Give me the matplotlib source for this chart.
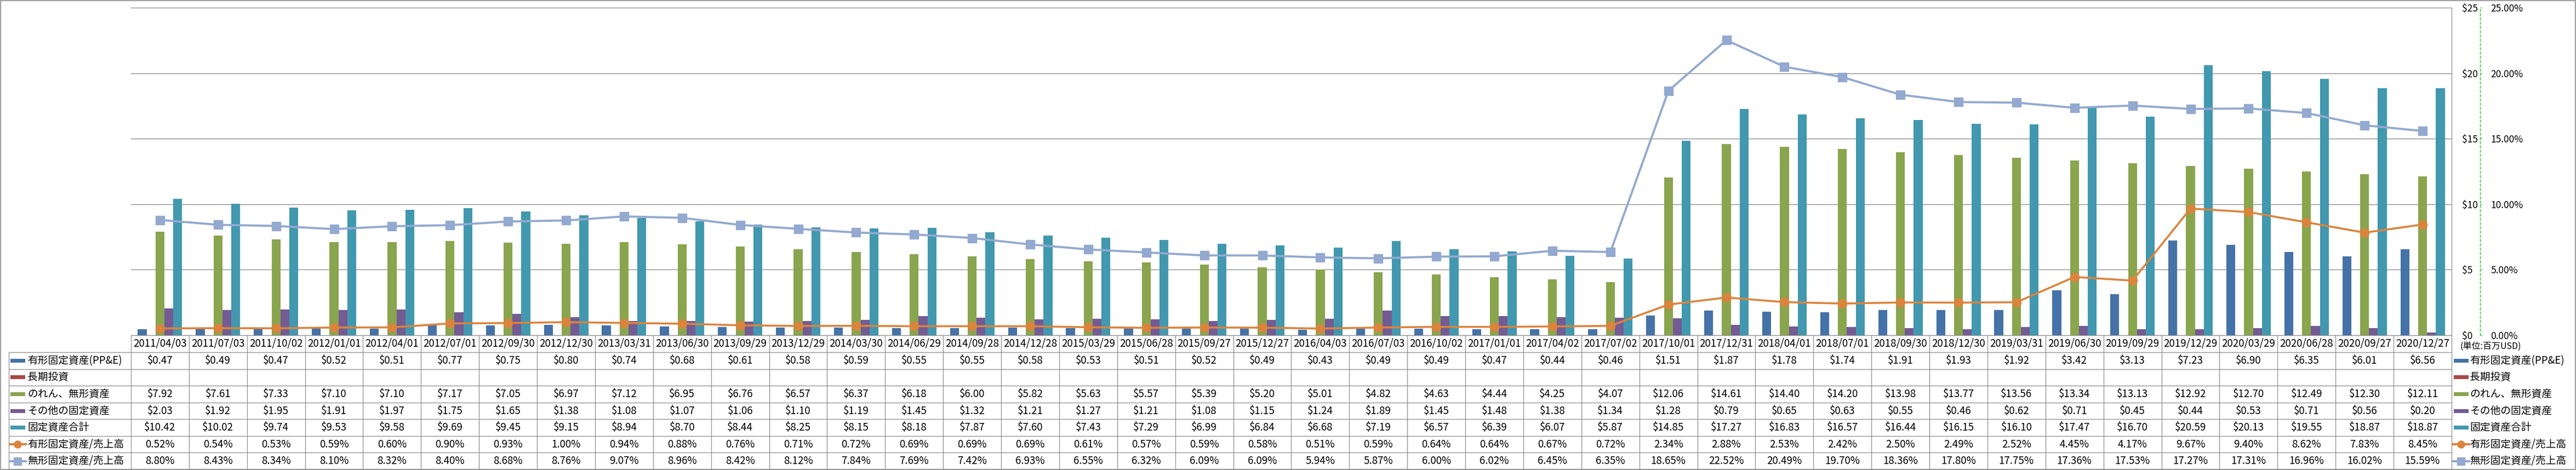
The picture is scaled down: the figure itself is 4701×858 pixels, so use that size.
import numpy as np
import matplotlib.pyplot as plt
from matplotlib.patches import Rectangle
from matplotlib.lines import Line2D

plt.rcParams['font.family'] = ['Noto Sans CJK JP', 'DejaVu Sans']

dates = ['2011/04/03', '2011/07/03', '2011/10/02', '2012/01/01', '2012/04/01', '2012/07/01', '2012/09/30',
         '2012/12/30', '2013/03/31', '2013/06/30', '2013/09/29', '2013/12/29', '2014/03/30', '2014/06/29',
         '2014/09/28', '2014/12/28', '2015/03/29', '2015/06/28', '2015/09/27', '2015/12/27', '2016/04/03',
         '2016/07/03', '2016/10/02', '2017/01/01', '2017/04/02', '2017/07/02', '2017/10/01', '2017/12/31',
         '2018/04/01', '2018/07/01', '2018/09/30', '2018/12/30', '2019/03/31', '2019/06/30', '2019/09/29',
         '2019/12/29', '2020/03/29', '2020/06/28', '2020/09/27', '2020/12/27']

ppe = [0.47, 0.49, 0.47, 0.52, 0.51, 0.77, 0.75, 0.80, 0.74, 0.68, 0.61, 0.58, 0.59, 0.55, 0.55, 0.58,
       0.53, 0.51, 0.52, 0.49, 0.43, 0.49, 0.49, 0.47, 0.44, 0.46, 1.51, 1.87, 1.78, 1.74, 1.91, 1.93,
       1.92, 3.42, 3.13, 7.23, 6.90, 6.35, 6.01, 6.56]
long_inv = [np.nan] * len(dates)  # 長期投資: no values in the source
goodwill = [7.92, 7.61, 7.33, 7.10, 7.10, 7.17, 7.05, 6.97, 7.12, 6.95, 6.76, 6.57, 6.37, 6.18, 6.00, 5.82,
            5.63, 5.57, 5.39, 5.20, 5.01, 4.82, 4.63, 4.44, 4.25, 4.07, 12.06, 14.61, 14.40, 14.20, 13.98,
            13.77, 13.56, 13.34, 13.13, 12.92, 12.70, 12.49, 12.30, 12.11]
other = [2.03, 1.92, 1.95, 1.91, 1.97, 1.75, 1.65, 1.38, 1.08, 1.07, 1.06, 1.10, 1.19, 1.45, 1.32, 1.21,
         1.27, 1.21, 1.08, 1.15, 1.24, 1.89, 1.45, 1.48, 1.38, 1.34, 1.28, 0.79, 0.65, 0.63, 0.55, 0.46,
         0.62, 0.71, 0.45, 0.44, 0.53, 0.71, 0.56, 0.20]
total = [10.42, 10.02, 9.74, 9.53, 9.58, 9.69, 9.45, 9.15, 8.94, 8.70, 8.44, 8.25, 8.15, 8.18, 7.87, 7.60,
         7.43, 7.29, 6.99, 6.84, 6.68, 7.19, 6.57, 6.39, 6.07, 5.87, 14.85, 17.27, 16.83, 16.57, 16.44,
         16.15, 16.10, 17.47, 16.70, 20.59, 20.13, 19.55, 18.87, 18.87]
ppe_ratio = [0.52, 0.54, 0.53, 0.59, 0.60, 0.90, 0.93, 1.00, 0.94, 0.88, 0.76, 0.71, 0.72, 0.69, 0.69, 0.69,
             0.61, 0.57, 0.59, 0.58, 0.51, 0.59, 0.64, 0.64, 0.67, 0.72, 2.34, 2.88, 2.53, 2.42, 2.50,
             2.49, 2.52, 4.45, 4.17, 9.67, 9.40, 8.62, 7.83, 8.45]
intang_ratio = [8.80, 8.43, 8.34, 8.10, 8.32, 8.40, 8.68, 8.76, 9.07, 8.96, 8.42, 8.12, 7.84, 7.69, 7.42,
                6.93, 6.55, 6.32, 6.09, 6.09, 5.94, 5.87, 6.00, 6.02, 6.45, 6.35, 18.65, 22.52, 20.49,
                19.70, 18.36, 17.80, 17.75, 17.36, 17.53, 17.27, 17.31, 16.96, 16.02, 15.59]

labels = ['有形固定資産(PP&E)', '長期投資', 'のれん、無形資産', 'その他の固定資産', '固定資産合計',
          '有形固定資産/売上高', '無形固定資産/売上高']
colors = ['#4572A7', '#AA4643', '#89A54E', '#745B93', '#4198AF', '#DB843D', '#93A9CF']
left_ticks = [0, 5, 10, 15, 20, 25]

W, H = 4701, 858
L, R, T, B = 239, 4474, 14, 612   # plot area in pixels
FS = 13.5
GRID = '#868686'
BORDER = '#8E8E8E'
GREEN = '#00C000'

fig = plt.figure(figsize=(W / 100, H / 100), dpi=100)
ax = fig.add_axes([L / W, 1 - B / H, (R - L) / W, (B - T) / H])

n = len(dates)
x = np.arange(n)
bw = 0.153
bar_data = [ppe, long_inv, goodwill, other, total]
for k, vals in enumerate(bar_data):
    ax.bar(x + (k - 2) * bw, vals, bw, color=colors[k], zorder=2)

ax.set_xlim(-0.5, n - 0.5)
ax.set_ylim(0, 25)
ax.set_xticks([])
ax.grid(axis='y', color=GRID, lw=0.9, zorder=0)
ax.set_axisbelow(True)
for s in ['left', 'top', 'bottom']:
    ax.spines[s].set_visible(False)
ax.spines['right'].set_color(BORDER)
ax.spines['right'].set_linewidth(0.9)

ax2 = ax.twinx()
ax2.plot(x, ppe_ratio, color=colors[5], lw=2.6, marker='o', ms=11.5, zorder=3)
ax2.plot(x, intang_ratio, color=colors[6], lw=2.8, marker='s', ms=12, zorder=3)
ax2.set_ylim(0, 25)
ax2.set_yticks(left_ticks)
ax2.set_yticklabels([f'{v:.2f}%' for v in left_ticks])
for s in ['left', 'top', 'bottom']:
    ax2.spines[s].set_visible(False)
ax2.spines['right'].set_position(('outward', 52 * 0.72))
ax2.spines['right'].set_color(GREEN)
ax2.spines['right'].set_linewidth(0.8)
ax2.spines['right'].set_linestyle((0, (4, 3)))
ax2.tick_params(axis='y', direction='out', length=2.5, width=0.8, color=GREEN, pad=11.5, labelsize=12.5)

# dollar labels also sit on the right (twinx moved them left, so set them after)
ax.set_yticks(left_ticks)
ax.set_yticklabels([f'${v}' for v in left_ticks])
ax.yaxis.tick_right()
ax.tick_params(axis='y', left=False, right=False, labelleft=False, labelright=True,
               length=0, pad=13.7, labelsize=12.5)

# data table under the plot, laid out in pixel coordinates
ov = fig.add_axes([0, 0, 1, 1], zorder=5)
ov.set_xlim(0, W)
ov.set_ylim(H, 0)
ov.axis('off')
ov.add_patch(Rectangle((0.7, 0.7), W - 1.4, H - 1.4, fill=False, ec=BORDER, lw=1.2))

colw = (R - L) / n
edges = L + colw * np.arange(n + 1)
hdr_bot, tab_bot, tab_left = 643, 857, 16
row_h = (tab_bot - hdr_bot) / len(labels)

ov.hlines(B, L, R, color=BORDER, lw=0.9)
for r in range(len(labels) + 1):
    ov.hlines(hdr_bot + r * row_h, tab_left, R, color=BORDER, lw=0.9)
ov.vlines(tab_left, hdr_bot, tab_bot, color=BORDER, lw=0.9)
ov.vlines(edges, B, tab_bot, color=BORDER, lw=0.9)

for i, d in enumerate(dates):
    ov.text(edges[i] + colw / 2, (B + hdr_bot) / 2, d, ha='center', va='center', fontsize=FS)

rows = [ppe, long_inv, goodwill, other, total, ppe_ratio, intang_ratio]
for r, (lab, vals) in enumerate(zip(labels, rows)):
    yc = hdr_bot + (r + 0.5) * row_h
    for kx in (19, 4478):
        if r < 5:
            ov.add_patch(Rectangle((kx, yc - 3.5), 27, 7, color=colors[r], lw=0))
        else:
            ov.add_line(Line2D([kx - 1, kx + 28], [yc, yc], color=colors[r], lw=3))
            ov.plot([kx + 13.5], [yc], marker='o' if r == 5 else 's', ms=9.5, color=colors[r])
    ov.text(50, yc, lab, ha='left', va='center', fontsize=FS)
    ov.text(4507, yc, lab, ha='left', va='center', fontsize=FS)
    for i, v in enumerate(vals):
        if np.isnan(v):
            continue
        txt = f'${v:.2f}' if r < 5 else f'{v:.2f}%'
        ov.text(edges[i] + colw / 2, yc, txt, ha='center', va='center', fontsize=FS)

ov.text(4490, (B + hdr_bot) / 2 + 6, '(単位:百万USD)', ha='left', va='center', fontsize=11.5)

fig.savefig('out.png', dpi=100)
